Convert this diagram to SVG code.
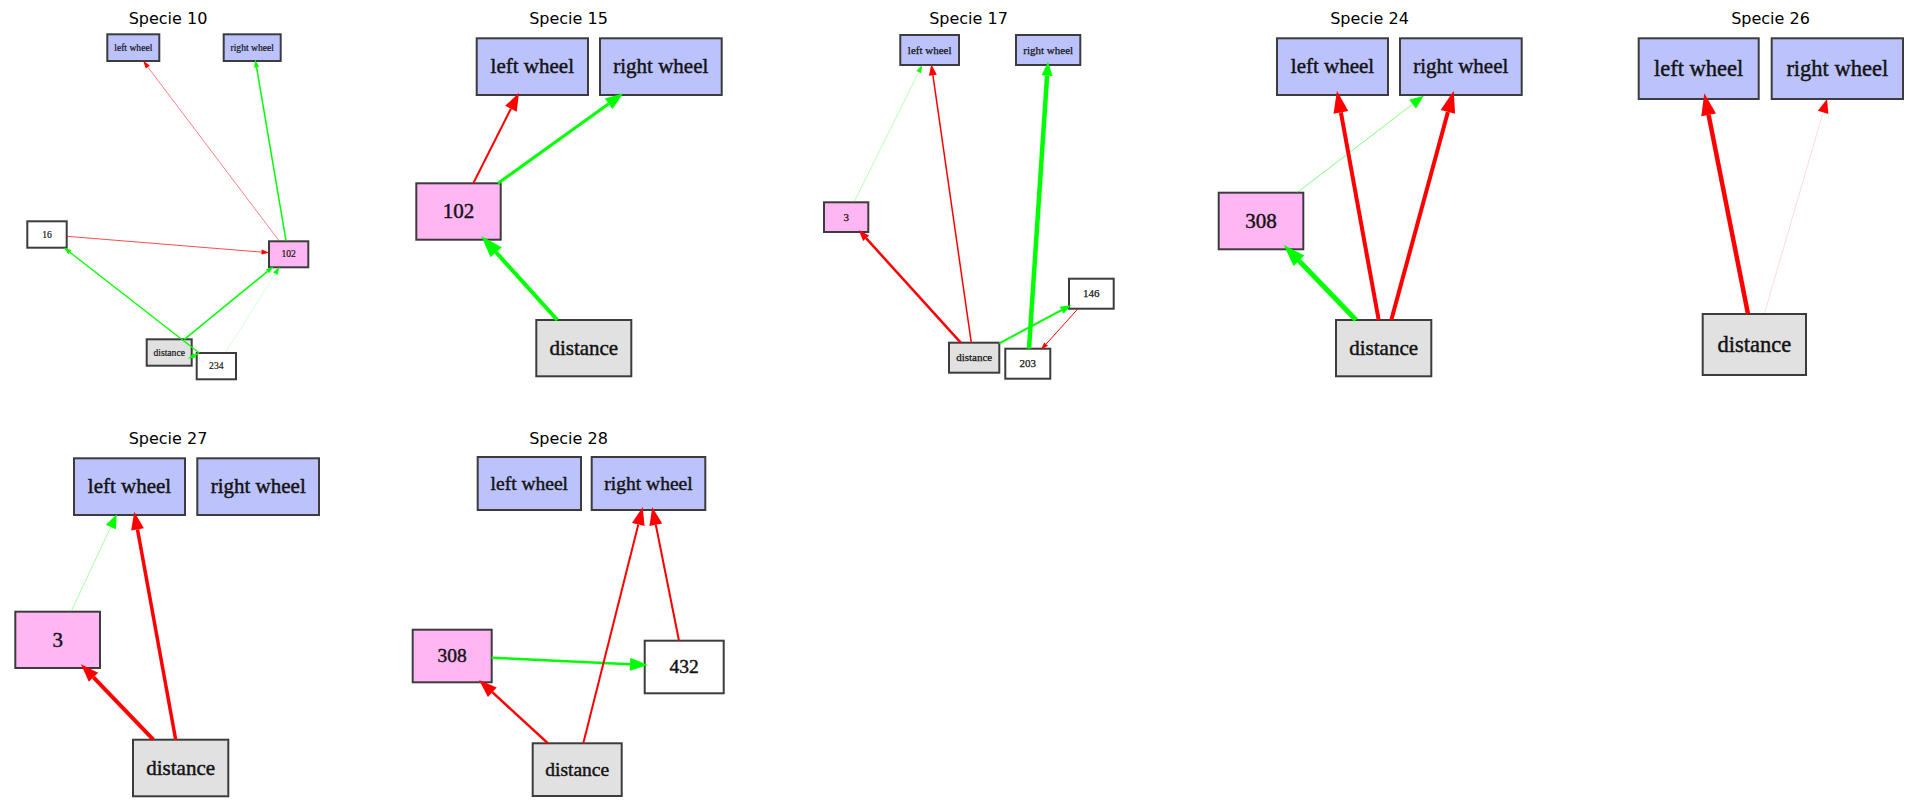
<svg xmlns="http://www.w3.org/2000/svg" width="1919" height="812" viewBox="0 0 1919 812">
  <style>
    .title { font-family: "DejaVu Sans", sans-serif; font-size: 16px; fill: #000; text-anchor: middle; }
    .box { stroke: #3c3c3c; stroke-width: 2; }
    .wheel { fill: #bcc3fc; }
    .hid { fill: #ffb6f3; }
    .sen { fill: #e1e1e1; }
    .plain { fill: #fff; }
    .lbl { font-family: "Liberation Serif", "Times New Roman", serif; fill: #141414; stroke: #141414; stroke-width: 0.45; text-anchor: middle; }
    .f10 { font-size: 9.6px; stroke-width: 0.2; }
    .f11 { font-size: 11px; stroke-width: 0.25; }
    .f19 { font-size: 19.5px; }
    .f21 { font-size: 21px; }
    .f22 { font-size: 22.5px; }
    .e { fill: none; stroke-linecap: butt; }
    .r { stroke: #ff0000; }
    .g { stroke: #00ff00; }
  </style>
  <defs>
    <!-- arrowheads: base at the line end, tip pointing forward -->
    <marker id="r-xs" markerUnits="userSpaceOnUse" orient="auto" refX="0" refY="0" markerWidth="10" markerHeight="10" viewBox="0 -5 10 10" overflow="visible"><path d="M0,-2.5 L8,0 L0,2.5 Z" fill="#ff0000"/></marker>
    <marker id="g-xs" markerUnits="userSpaceOnUse" orient="auto" refX="0" refY="0" markerWidth="10" markerHeight="10" viewBox="0 -5 10 10" overflow="visible"><path d="M0,-2.5 L8,0 L0,2.5 Z" fill="#00ff00"/></marker>
    <marker id="r-s" markerUnits="userSpaceOnUse" orient="auto" refX="0" refY="0" markerWidth="12" markerHeight="12" viewBox="0 -6 12 12" overflow="visible"><path d="M0,-4 L11,0 L0,4 Z" fill="#ff0000"/></marker>
    <marker id="g-s" markerUnits="userSpaceOnUse" orient="auto" refX="0" refY="0" markerWidth="12" markerHeight="12" viewBox="0 -6 12 12" overflow="visible"><path d="M0,-4 L11,0 L0,4 Z" fill="#00ff00"/></marker>
    <marker id="r-m" markerUnits="userSpaceOnUse" orient="auto" refX="0" refY="0" markerWidth="16" markerHeight="16" viewBox="0 -8 16 16" overflow="visible"><path d="M0,-5.5 L14,0 L0,5.5 Z" fill="#ff0000"/></marker>
    <marker id="g-m" markerUnits="userSpaceOnUse" orient="auto" refX="0" refY="0" markerWidth="16" markerHeight="16" viewBox="0 -8 16 16" overflow="visible"><path d="M0,-5.5 L14,0 L0,5.5 Z" fill="#00ff00"/></marker>
    <marker id="r-l" markerUnits="userSpaceOnUse" orient="auto" refX="0" refY="0" markerWidth="20" markerHeight="20" viewBox="0 -10 20 20" overflow="visible"><path d="M0,-6.5 L18,0 L0,6.5 Z" fill="#ff0000"/></marker>
    <marker id="g-l" markerUnits="userSpaceOnUse" orient="auto" refX="0" refY="0" markerWidth="20" markerHeight="20" viewBox="0 -10 20 20" overflow="visible"><path d="M0,-6.5 L18,0 L0,6.5 Z" fill="#00ff00"/></marker>
    <marker id="r-xl" markerUnits="userSpaceOnUse" orient="auto" refX="0" refY="0" markerWidth="24" markerHeight="24" viewBox="0 -12 24 24" overflow="visible"><path d="M0,-7.5 L22,0 L0,7.5 Z" fill="#ff0000"/></marker>
    <marker id="g-xl" markerUnits="userSpaceOnUse" orient="auto" refX="0" refY="0" markerWidth="24" markerHeight="24" viewBox="0 -12 24 24" overflow="visible"><path d="M0,-7.5 L22,0 L0,7.5 Z" fill="#00ff00"/></marker>
  </defs>

  <rect width="1919" height="812" fill="#fff"/>

  <!-- titles -->
  <g id="titles">
    <text class="title" x="168" y="24">Specie 10</text>
    <text class="title" x="568.5" y="24">Specie 15</text>
    <text class="title" x="968.5" y="24">Specie 17</text>
    <text class="title" x="1369.5" y="24">Specie 24</text>
    <text class="title" x="1770.5" y="24">Specie 26</text>
    <text class="title" x="168" y="444">Specie 27</text>
    <text class="title" x="568.5" y="444">Specie 28</text>
  </g>

  <!-- Specie 10 -->
  <g id="sp10-nodes">
    <g id="sp10-left-wheel"><rect class="box wheel" x="107.3" y="34.3" width="52" height="26.7" stroke-width="1.3"/><text class="lbl f10" x="133.3" y="50.8">left wheel</text></g>
    <g id="sp10-right-wheel"><rect class="box wheel" x="223.7" y="34.3" width="57" height="26.7" stroke-width="1.3"/><text class="lbl f10" x="252.2" y="50.8">right wheel</text></g>
    <g id="sp10-n16"><rect class="box plain" x="27.3" y="221.3" width="39.4" height="26.4" stroke-width="1.3"/><text class="lbl f10" x="47" y="237.6">16</text></g>
    <g id="sp10-n102"><rect class="box hid" x="269" y="241.3" width="39.3" height="26" stroke-width="1.3"/><text class="lbl f10" x="288.7" y="257.4">102</text></g>
    <g id="sp10-distance"><rect class="box sen" x="146.7" y="339.3" width="45" height="26.4" stroke-width="1.3"/><text class="lbl f10" x="169.2" y="355.6">distance</text></g>
    <g id="sp10-n234"><rect class="box plain" x="196.7" y="353" width="39.3" height="26.3" stroke-width="1.3"/><text class="lbl f10" x="216.3" y="369.2">234</text></g>
  </g>

  <!-- Specie 15 -->
  <g id="sp15-nodes">
    <g id="sp15-left-wheel"><rect class="box wheel" x="476.7" y="38.3" width="111.3" height="56.7"/><text class="lbl f21" x="532.3" y="73.4">left wheel</text></g>
    <g id="sp15-right-wheel"><rect class="box wheel" x="600" y="38.3" width="121.7" height="56.7"/><text class="lbl f21" x="660.8" y="73.4">right wheel</text></g>
    <g id="sp15-n102"><rect class="box hid" x="416.3" y="183.3" width="84.4" height="56.4"/><text class="lbl f21" x="458.5" y="218.2">102</text></g>
    <g id="sp15-distance"><rect class="box sen" x="536.3" y="320" width="95" height="56.3"/><text class="lbl f21" x="583.8" y="354.9">distance</text></g>
  </g>

  <!-- Specie 17 -->
  <g id="sp17-nodes">
    <g id="sp17-left-wheel"><rect class="box wheel" x="900.3" y="35" width="58.7" height="30" stroke-width="1.4"/><text class="lbl f11" x="929.7" y="53.5">left wheel</text></g>
    <g id="sp17-right-wheel"><rect class="box wheel" x="1016" y="35" width="64.3" height="30" stroke-width="1.4"/><text class="lbl f11" x="1048.2" y="53.5">right wheel</text></g>
    <g id="sp17-n3"><rect class="box hid" x="824" y="202.3" width="44.3" height="29.7" stroke-width="1.4"/><text class="lbl f11" x="846.2" y="220.7">3</text></g>
    <g id="sp17-n146"><rect class="box plain" x="1069" y="278.7" width="44.7" height="30" stroke-width="1.4"/><text class="lbl f11" x="1091.3" y="297.2">146</text></g>
    <g id="sp17-distance"><rect class="box sen" x="949" y="342.7" width="50.3" height="30" stroke-width="1.4"/><text class="lbl f11" x="974.2" y="361.2">distance</text></g>
    <g id="sp17-n203"><rect class="box plain" x="1005.3" y="348.7" width="45" height="30" stroke-width="1.4"/><text class="lbl f11" x="1027.8" y="367.2">203</text></g>
  </g>

  <!-- Specie 24 -->
  <g id="sp24-nodes">
    <g id="sp24-left-wheel"><rect class="box wheel" x="1277" y="38.3" width="111" height="56.7"/><text class="lbl f21" x="1332.5" y="73.4">left wheel</text></g>
    <g id="sp24-right-wheel"><rect class="box wheel" x="1400" y="38.3" width="121.7" height="56.7"/><text class="lbl f21" x="1460.8" y="73.4">right wheel</text></g>
    <g id="sp24-n308"><rect class="box hid" x="1218.7" y="192.7" width="84.6" height="56.6"/><text class="lbl f21" x="1261" y="227.7">308</text></g>
    <g id="sp24-distance"><rect class="box sen" x="1336" y="320" width="95.3" height="56.3"/><text class="lbl f21" x="1383.7" y="354.9">distance</text></g>
  </g>

  <!-- Specie 26 -->
  <g id="sp26-nodes">
    <g id="sp26-left-wheel"><rect class="box wheel" x="1638.7" y="38.3" width="120" height="60.7"/><text class="lbl f22" x="1698.7" y="75.9">left wheel</text></g>
    <g id="sp26-right-wheel"><rect class="box wheel" x="1771.7" y="38.3" width="131.3" height="60.7"/><text class="lbl f22" x="1837.3" y="75.9">right wheel</text></g>
    <g id="sp26-distance"><rect class="box sen" x="1702.7" y="314" width="103.3" height="61"/><text class="lbl f22" x="1754.3" y="351.7">distance</text></g>
  </g>

  <!-- Specie 27 -->
  <g id="sp27-nodes">
    <g id="sp27-left-wheel"><rect class="box wheel" x="74" y="458.3" width="111" height="56.7"/><text class="lbl f21" x="129.5" y="493.4">left wheel</text></g>
    <g id="sp27-right-wheel"><rect class="box wheel" x="197.3" y="458.3" width="121.7" height="56.7"/><text class="lbl f21" x="258.2" y="493.4">right wheel</text></g>
    <g id="sp27-n3"><rect class="box hid" x="15.3" y="611.7" width="84.7" height="56.3"/><text class="lbl f21" x="57.7" y="646.5">3</text></g>
    <g id="sp27-distance"><rect class="box sen" x="133" y="739.7" width="95.3" height="56.6"/><text class="lbl f21" x="180.7" y="774.7">distance</text></g>
  </g>

  <!-- Specie 28 -->
  <g id="sp28-nodes">
    <g id="sp28-left-wheel"><rect class="box wheel" x="477.7" y="457" width="103.3" height="53"/><text class="lbl f19" x="529.3" y="489.7">left wheel</text></g>
    <g id="sp28-right-wheel"><rect class="box wheel" x="591.7" y="457" width="113.6" height="53"/><text class="lbl f19" x="648.5" y="489.7">right wheel</text></g>
    <g id="sp28-n308"><rect class="box hid" x="412.7" y="629.7" width="79" height="52.6"/><text class="lbl f19" x="452.2" y="662.2">308</text></g>
    <g id="sp28-n432"><rect class="box plain" x="644.7" y="640.7" width="79" height="52.6"/><text class="lbl f19" x="684.2" y="673.2">432</text></g>
    <g id="sp28-distance"><rect class="box sen" x="532.7" y="743.3" width="89" height="52.7"/><text class="lbl f19" x="577.2" y="775.9">distance</text></g>
  </g>

  <!-- connectors -->
  <g id="connectors">
    <!-- Specie 10 -->
    <path class="e r" d="M279,240.7 L147.8,67" stroke-width="1" stroke-opacity="0.5" marker-end="url(#r-xs)"/>
    <path class="e g" d="M286,240.7 L256.6,67.4" stroke-width="1.5" marker-end="url(#g-xs)"/>
    <path class="e r" d="M66.7,236.3 L261.5,252.1" stroke-width="1" stroke-opacity="0.7" marker-end="url(#r-xs)"/>
    <path class="e g" d="M199.3,353 L69.9,252.3" stroke-width="1.3" marker-end="url(#g-xs)"/>
    <path class="e g" d="M184.3,339.3 L267.5,271.4" stroke-width="1.5" marker-end="url(#g-xs)"/>
    <path class="e g" d="M225.3,353 L275.3,273.6" stroke-width="0.8" stroke-opacity="0.2" marker-end="url(#g-xs)"/>
    <path class="e g" d="M198.6,353.4 L195,355.2" stroke-width="1.3" marker-end="url(#g-xs)"/>

    <!-- Specie 15 -->
    <path class="e r" d="M473.3,183.3 L510.9,108.8" stroke-width="2" marker-end="url(#r-l)"/>
    <path class="e g" d="M498,183.3 L608.7,103.8" stroke-width="3" marker-end="url(#g-l)"/>
    <path class="e g" d="M557.3,320 L496.1,252.3" stroke-width="4" marker-end="url(#g-xl)"/>

    <!-- Specie 17 -->
    <path class="e g" d="M854,202.3 L918.7,72.2" stroke-width="0.8" stroke-opacity="0.35" marker-end="url(#g-xs)"/>
    <path class="e r" d="M971.3,342.7 L932.9,75.2" stroke-width="1.5" marker-end="url(#r-s)"/>
    <path class="e r" d="M960.7,342.7 L866.1,238.2" stroke-width="2.5" marker-end="url(#r-s)"/>
    <path class="e g" d="M1029,348.7 L1047.1,75.7" stroke-width="4.5" marker-end="url(#g-m)"/>
    <path class="e g" d="M999.3,343.3 L1061.6,310.2" stroke-width="2" marker-end="url(#g-s)"/>
    <path class="e r" d="M1078,308.7 L1046.1,344.1" stroke-width="1" marker-end="url(#r-xs)"/>

    <!-- Specie 24 -->
    <path class="e g" d="M1297,192.7 L1412.6,104.2" stroke-width="1" stroke-opacity="0.5" marker-end="url(#g-m)"/>
    <path class="e r" d="M1378.7,320 L1340.9,112.3" stroke-width="4" marker-end="url(#r-xl)"/>
    <path class="e r" d="M1391.3,320 L1447.9,111.9" stroke-width="4" marker-end="url(#r-xl)"/>
    <path class="e g" d="M1356,320 L1299,260.8" stroke-width="5" marker-end="url(#g-xl)"/>

    <!-- Specie 26 -->
    <path class="e r" d="M1748,314 L1708.6,114.9" stroke-width="4.5" marker-end="url(#r-xl)"/>
    <path class="e r" d="M1764.3,314 L1823.1,112.4" stroke-width="1" stroke-opacity="0.15" marker-end="url(#r-m)"/>

    <!-- Specie 27 -->
    <path class="e g" d="M71,611.7 L110.8,527" stroke-width="0.8" stroke-opacity="0.45" marker-end="url(#g-m)"/>
    <path class="e r" d="M175.7,739.7 L137.5,529.4" stroke-width="3.5" marker-end="url(#r-l)"/>
    <path class="e r" d="M153.3,739.7 L93.5,677.3" stroke-width="4" marker-end="url(#r-l)"/>

    <!-- Specie 28 -->
    <path class="e g" d="M491.7,657.7 L630,664.2" stroke-width="2.5" marker-end="url(#g-l)"/>
    <path class="e r" d="M548,743.3 L492.3,692.2" stroke-width="2.5" marker-end="url(#r-l)"/>
    <path class="e r" d="M583.3,743.3 L638.3,524.5" stroke-width="2" marker-end="url(#r-l)"/>
    <path class="e r" d="M679,640.7 L655.8,524.7" stroke-width="2" marker-end="url(#r-l)"/>
  </g>
</svg>
